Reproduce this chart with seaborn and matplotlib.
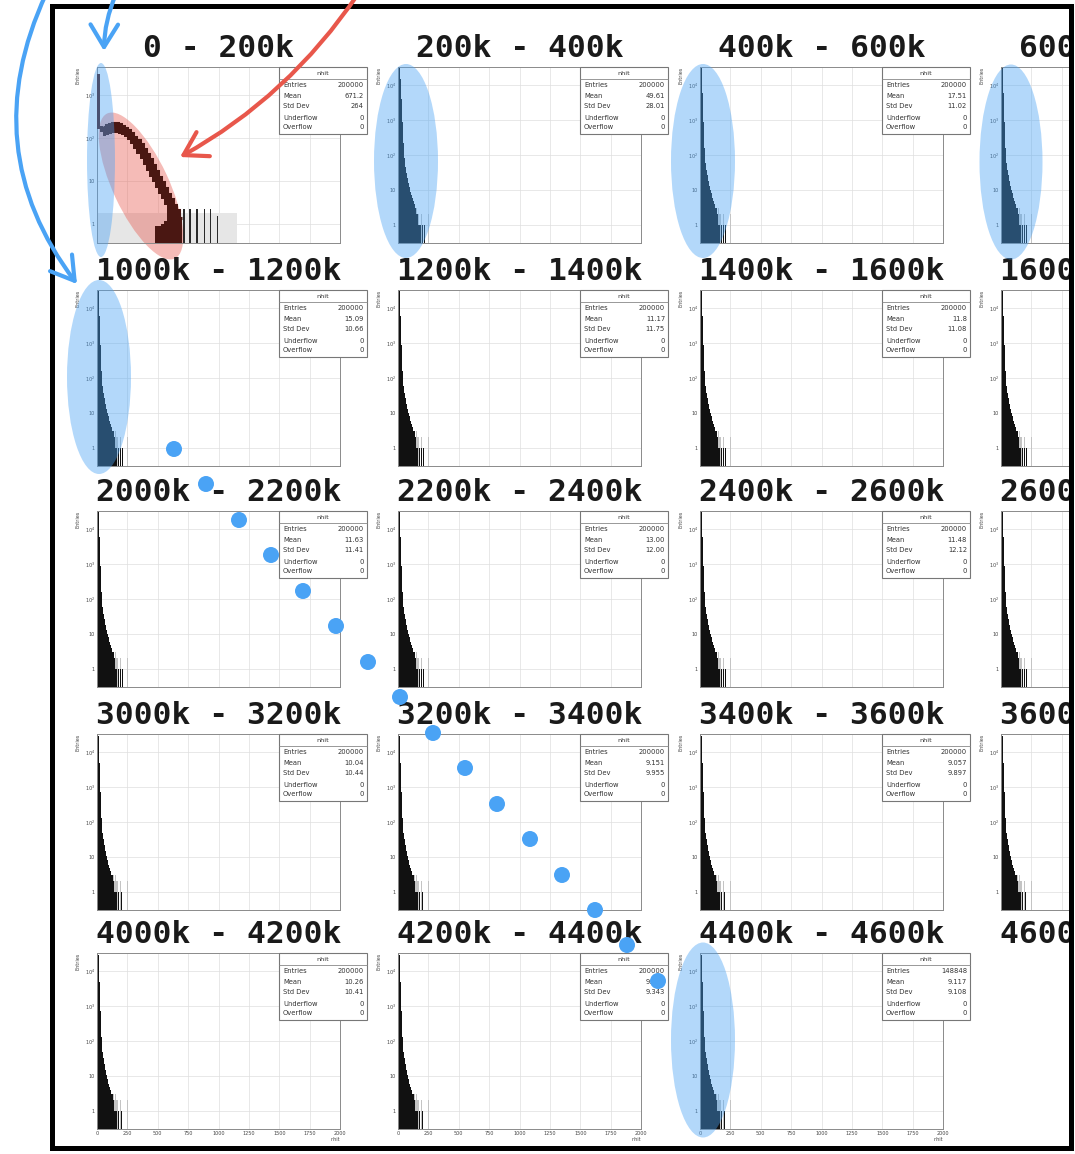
import matplotlib
matplotlib.use("Agg")
import numpy as np
import pandas as pd
import matplotlib.pyplot as plt
import seaborn as sns
from matplotlib.patches import Ellipse, Rectangle, Circle, FancyArrowPatch, ArrowStyle
from matplotlib.ticker import MultipleLocator, LogLocator, NullFormatter, FuncFormatter
from matplotlib.transforms import Affine2D

# ---------------- data ----------------
TITLES = [
    "0 - 200k", "200k - 400k", "400k - 600k", "600k - 800k",
    "1000k - 1200k", "1200k - 1400k", "1400k - 1600k", "1600k - 1800k",
    "2000k - 2200k", "2200k - 2400k", "2400k - 2600k", "2600k - 2800k",
    "3000k - 3200k", "3200k - 3400k", "3400k - 3600k", "3600k - 3800k",
    "4000k - 4200k", "4200k - 4400k", "4400k - 4600k", "4600k - 4800k",
]
ENTRIES = ["200000", "200000", "200000", "200000",
           "200000", "200000", "200000", "200000",
           "200000", "200000", "200000", "200000",
           "200000", "200000", "200000", "200000",
           "200000", "200000", "148848", ""]
MEANS = ["671.2", "49.61", "17.51", "16.82",
         "15.09", "11.17", "11.8", "11.62",
         "11.63", "13.00", "11.48", "11.21",
         "10.04", "9.151", "9.057", "9.812",
         "10.26", "9.034", "9.117", ""]
STDS = ["264", "28.01", "11.02", "11.35",
        "10.66", "11.75", "11.08", "11.30",
        "11.41", "12.00", "12.12", "11.64",
        "10.44", "9.955", "9.897", "10.12",
        "10.41", "9.343", "9.108", ""]
PROFILES = ["broad", "wide", "std", "std",
            "std", "std", "std", "std",
            "std", "std", "std", "std",
            "late", "late", "late", "late",
            "late", "late", "late", None]

# nhit histograms (bin width 8, starting at 0)
SPIKE_BIN = 8
SPIKE_STD = [95000, 30000, 6000, 900, 160, 60, 38, 26, 18, 13, 10, 8, 6, 5, 4,
             3, 3, 2, 2, 1, 1, 0, 1, 0, 1, 0, 1]
SPIKE_WIDE = [60000, 40000, 15000, 4000, 900, 220, 80, 45, 30, 22, 16, 12, 9, 7,
              6, 5, 4, 3, 3, 2, 2, 1, 1, 1, 0, 1, 0, 1]
SPIKE_LATE = [100000, 28000, 5000, 700, 130, 50, 32, 22, 15, 11, 8, 6, 5, 4, 3,
              3, 2, 2, 1, 1, 1, 0, 1, 0, 0, 1]
# light-grey companion histogram (bin width 8, starting at 0)
GREY_STD = [3, 3, 3, 3, 3, 3, 3, 3, 3, 3, 3, 2, 3, 3, 2, 2, 3, 2, 2, 3, 2, 2,
            0, 0, 2, 0, 0, 0, 0, 0, 0, 2]

# first panel: broad distribution drawn as a band (upper / lower envelope), bin width 25
BROAD_BIN = 25
BROAD_UPPER = [3000, 190, 185, 200, 212, 219, 219, 209, 195, 174, 151, 129, 107, 89,
               71, 55, 43, 32, 24, 17, 12.6, 9.3, 6.9, 5.1, 3.8, 2.8, 2.1, 1.4]
BROAD_LOWER = [165, 140, 111, 120, 127, 131, 131, 125, 117, 104, 89, 71, 55, 43,
               32, 24, 17, 12.6, 9.3, 6.9, 5.1, 3.8, 2.8, 0, 0, 0, 0, 0]
# low-count bins filled to the baseline (bins 19..22)
BROAD_LOWFILL_X = [487.5, 512.5, 537.5, 562.5]
BROAD_LOWFILL_C = [0.9, 0.9, 1.0, 1.2]
BROAD_TAIL_X = [716, 765, 823, 881, 930, 988]
BROAD_TAIL_C = [2.3, 2.3, 2.3, 2.3, 2.3, 1.5]
GREY_BROAD_BIN = 50
GREY_BROAD = [1.8, 1.8, 1.8, 1.8, 1.8, 1.8, 1.8, 1.8, 1.8, 1.8, 1.8, 1.8, 1.8, 1.8,
              1.8, 1.8, 1.8, 1.8, 1.8, 1.8, 1.8, 1.8, 1.8]

# ---------------- layout (pixels) ----------------
W, H = 1075, 1154
COL_LEFT = [97, 398, 700, 1001]
ROW_TOP = [67, 290, 511, 734, 953]
AX_W, AX_H = 243, 176

BLUE = "#4aa3f5"
RED = "#e8574b"
MAROON = "#4a1712"

sns.set_style("white")
plt.rcParams["font.family"] = ["DejaVu Sans"]

fig = plt.figure(figsize=(W / 100, H / 100), dpi=100)
fig.patch.set_facecolor("white")
# pixel (top-left origin) -> figure transform
PX = Affine2D().scale(1 / W, -1 / H).translate(0, 1) + fig.transFigure


def hist(ax, start, width, counts, color, z=1):
    counts = [float(v) for v in counts]
    centers = [start + width * (i + 0.5) for i in range(len(counts))]
    df = pd.DataFrame({"nhit": centers, "n": counts})
    sns.histplot(data=df, x="nhit", weights="n", binwidth=width,
                 binrange=(start, start + width * len(counts)), ax=ax, color=color,
                 alpha=1.0, linewidth=0, element="bars", stat="count", zorder=z)


def hist_at(ax, xs, counts, width, color, z=3):
    df = pd.DataFrame({"nhit": [float(v) for v in xs], "n": [float(v) for v in counts]})
    lo = min(xs) - width / 2
    nb = int(np.ceil((max(xs) + width / 2 - lo) / width))
    sns.histplot(data=df, x="nhit", weights="n", binwidth=width,
                 binrange=(lo, lo + nb * width), ax=ax, color=color,
                 alpha=1.0, linewidth=0, element="bars", stat="count", zorder=z)


def ytick_fmt(v, pos):
    if v <= 0:
        return ""
    e = int(round(np.log10(v)))
    if e == 0:
        return "1"
    if e == 1:
        return "10"
    return r"$10^{%d}$" % e


def stats_box(ax, entries, mean, std):
    tr = ax.transAxes
    fx = lambda p: p / AX_W
    fy = lambda p: 1 - p / AX_H
    x0, x1 = AX_W - 61, AX_W + 27
    ax.add_patch(Rectangle((fx(x0), fy(67)), fx(x1 - x0), 67 / AX_H, transform=tr,
                           fc="white", ec="#777777", lw=0.8, clip_on=False, zorder=5))
    ax.plot([fx(x0), fx(x1)], [fy(12), fy(12)], transform=tr, color="#888888",
            lw=0.6, clip_on=False, zorder=6)
    ax.text(fx((x0 + x1) / 2), fy(6.5), "nhit", transform=tr, ha="center", va="center",
            fontsize=4.6, color="#333333", zorder=7, clip_on=False)
    rows = [("Entries", entries, 18), ("Mean", mean, 29), ("Std Dev", std, 39),
            ("Underflow", "0", 51), ("Overflow", "0", 60)]
    for lab, val, yy in rows:
        ax.text(fx(x0 + 4), fy(yy), lab, transform=tr, ha="left", va="center",
                fontsize=4.9, color="#333333", zorder=7, clip_on=False)
        ax.text(fx(x1 - 3), fy(yy), val, transform=tr, ha="right", va="center",
                fontsize=4.9, color="#333333", zorder=7, clip_on=False)


for idx, title in enumerate(TITLES):
    r, c = divmod(idx, 4)
    left, top = COL_LEFT[c], ROW_TOP[r]
    fig.text((left + AX_W / 2) / W, 1 - (top - 10) / H, title, ha="center",
             va="baseline", fontsize=22.5, family="DejaVu Sans Mono", weight="bold",
             color="#1a1a1a")
    prof = PROFILES[idx]
    if prof is None:
        continue
    ax = fig.add_axes([left / W, 1 - (top + AX_H) / H, AX_W / W, AX_H / H])
    ax.set_yscale("log")
    if prof == "broad":
        hist(ax, 0, GREY_BROAD_BIN, GREY_BROAD, "#e6e6e6", z=1)
        # highlight ellipse sits under the curve
        ax.add_patch(Ellipse((141, 186), 56, 160, angle=-25, fc=RED, ec="none",
                             alpha=0.4, transform=PX, clip_on=False, zorder=2))
        edges = [BROAD_BIN * i for i in range(len(BROAD_UPPER) + 1)]
        lower = [v if v > 0 else 1e-3 for v in BROAD_LOWER]
        ax.stairs(BROAD_UPPER, edges, baseline=lower, fill=True, color=MAROON,
                  lw=0, zorder=3)
        ax.stairs(BROAD_UPPER[2:], edges[2:], baseline=None, fill=False, color=MAROON,
                  lw=2.2, zorder=3)
        hist_at(ax, BROAD_LOWFILL_X, BROAD_LOWFILL_C, BROAD_BIN, MAROON)
        hist_at(ax, BROAD_TAIL_X, BROAD_TAIL_C, 12, "#2a2a2a")
        ax.set_ylim(10 ** -0.44, 10 ** 3.65)
    else:
        counts = {"std": SPIKE_STD, "wide": SPIKE_WIDE, "late": SPIKE_LATE}[prof]
        hist(ax, 0, SPIKE_BIN, GREY_STD, "#c4c4c4", z=1)
        hist(ax, 0, SPIKE_BIN, counts, "#111111", z=2)
        ax.set_ylim(10 ** -0.514, 10 ** 4.514)
    ax.set_xlim(0, 2000)
    ax.xaxis.set_major_locator(MultipleLocator(250))
    ax.xaxis.set_minor_locator(MultipleLocator(50))
    ax.yaxis.set_major_locator(LogLocator(base=10, numticks=12))
    ax.yaxis.set_minor_locator(LogLocator(base=10, subs=np.arange(2, 10), numticks=12))
    ax.yaxis.set_major_formatter(FuncFormatter(ytick_fmt))
    ax.yaxis.set_minor_formatter(NullFormatter())
    ax.grid(True, which="major", color="#dedede", lw=0.5)
    ax.set_axisbelow(True)
    ax.tick_params(axis="both", which="major", direction="in", length=2.5, width=0.4,
                   color="#555555", labelsize=3.5, pad=1.5, labelcolor="#444444")
    ax.tick_params(axis="both", which="minor", direction="in", length=1.2, width=0.3,
                   color="#666666")
    for s in ax.spines.values():
        s.set_color("#8a8a8a")
        s.set_linewidth(0.7)
    ax.set_ylabel("Entries", fontsize=3.5, loc="top", labelpad=3, color="#444444")
    if r == 4:
        ax.set_xlabel("nhit", fontsize=3.5, loc="right", labelpad=0.5, color="#444444")
    else:
        ax.set_xlabel("")
        ax.set_xticklabels([])
    if c < 3:  # the 4th column's stats boxes lie beyond the frame
        stats_box(ax, ENTRIES[idx], MEANS[idx], STDS[idx])

# ---------------- annotation layer (pixel coordinates) ----------------
ov = fig.add_axes([0, 0, 1, 1], zorder=100)
ov.set_xlim(0, W)
ov.set_ylim(H, 0)
ov.axis("off")
ov.patch.set_alpha(0)

ov.add_patch(Rectangle((1070.5, -5), 20, H + 10, fc="white", ec="none", zorder=1))
ov.add_patch(Rectangle((51.5, 6), 1070.5 - 51.5, 1148 - 6, fill=False, ec="black",
                       lw=3.6, zorder=2))

BLUE_ELLIPSES = [(101, 160, 28, 194), (406, 161, 64, 194), (703, 161, 64, 194),
                 (1011, 162, 63, 195), (99, 377, 64, 194), (703, 1040, 64, 195)]
for cx, cy, ew, eh in BLUE_ELLIPSES:
    ov.add_patch(Ellipse((cx, cy), ew, eh, fc=BLUE, ec="none", alpha=0.42, zorder=3))

DOTS = [(174, 449), (206, 484), (239, 520), (271, 555), (303, 591), (336, 626),
        (368, 662), (400, 697), (433, 733), (465, 768), (497, 804), (530, 839),
        (562, 875), (595, 910), (627, 945), (658, 981)]
for dx, dy in DOTS:
    ov.add_patch(Circle((dx, dy), 8, fc=BLUE, ec="none", zorder=4))

head = ArrowStyle("->", head_length=0.9, head_width=0.55)
arrows = [((116, -6), (104, 51), 0.1, BLUE),
          ((46, -6), (77, 284), 0.3, BLUE),
          ((358, -6), (180, 157), -0.12, RED)]
for pa, pb, rad, col in arrows:
    ov.add_patch(FancyArrowPatch(pa, pb, connectionstyle=f"arc3,rad={rad}",
                                 arrowstyle=head, mutation_scale=18, lw=3, color=col,
                                 shrinkA=0, shrinkB=0, zorder=5, capstyle="round",
                                 joinstyle="round"))

fig.savefig("out.png", dpi=100, facecolor="white")
